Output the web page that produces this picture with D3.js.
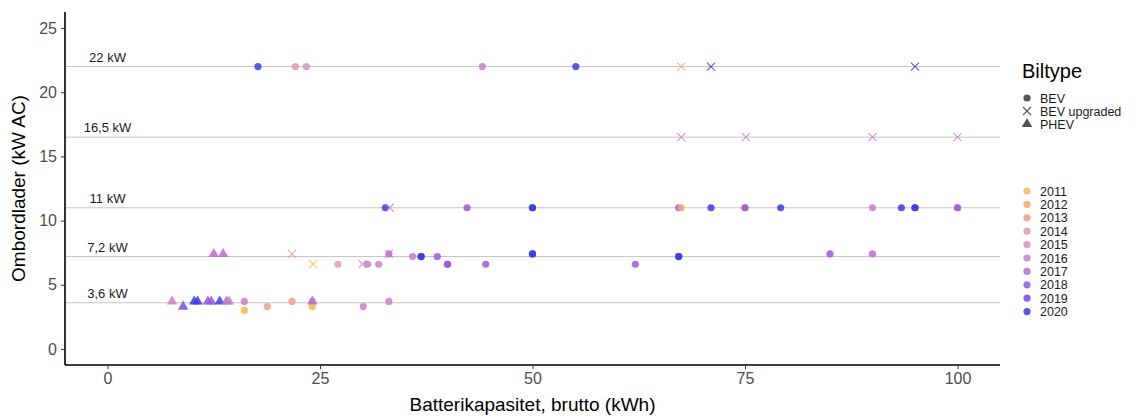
<!DOCTYPE html>
<html>
<head>
<meta charset="utf-8">
<script src="https://cdn.jsdelivr.net/npm/d3@7"></script>
<style>
  body { margin: 0; background: #fff; }
  text { font-family: "Liberation Sans", Arial, sans-serif; }
</style>
</head>
<body>
<script>
// Data
var battery = [17.7, 22.1, 23.4, 44.1, 55.1,
  32.7, 42.3, 50.0, 50.0, 67.2, 67.5, 71.0, 75.0, 75.0, 79.2, 90.0, 93.4, 95.0, 95.0, 100, 100,
  33.1, 35.9, 36.9, 36.9, 38.8, 50.0, 50.0, 67.2, 67.2, 85.0, 90.0,
  27.1, 30.6, 31.9, 40.0, 40.0, 44.5, 62.1,
  16.1, 16.1, 18.8, 21.7, 24.1, 24.1, 30.1, 33.1,
  67.5, 71.0, 95.0, 67.5, 75.1, 90.0, 100, 33.2, 21.7, 24.2, 30.0, 33.1,
  12.5, 13.6, 7.6, 8.9, 10.2, 10.6, 11.8, 12.2, 13.2, 14.0, 14.3, 24.1];
var charger = [22, 22, 22, 22, 22,
  11, 11, 11, 11, 11, 11, 11, 11, 11, 11, 11, 11, 11, 11, 11, 11,
  7.4, 7.2, 7.2, 7.2, 7.2, 7.4, 7.4, 7.2, 7.2, 7.4, 7.4,
  6.6, 6.6, 6.6, 6.6, 6.6, 6.6, 6.6,
  3.7, 3.0, 3.3, 3.7, 3.7, 3.3, 3.3, 3.7,
  22, 22, 22, 16.5, 16.5, 16.5, 16.5, 11, 7.4, 6.6, 6.6, 7.4,
  7.4, 7.4, 3.7, 3.3, 3.7, 3.7, 3.7, 3.7, 3.7, 3.7, 3.7, 3.7];
var year = [2020, 2014, 2015, 2016, 2020,
  2020, 2018, 2020, 2020, 2018, 2012, 2020, 2015, 2018, 2020, 2016, 2020, 2020, 2020, 2015, 2018,
  2017, 2016, 2020, 2020, 2018, 2020, 2020, 2020, 2020, 2018, 2017,
  2014, 2016, 2016, 2018, 2018, 2018, 2018,
  2016, 2011, 2013, 2013, 2014, 2011, 2016, 2016,
  2012, 2020, 2020, 2016, 2016, 2016, 2016, 2016, 2014, 2011, 2016, 2016,
  2017, 2017, 2016, 2019, 2020, 2020, 2018, 2018, 2020, 2017, 2016, 2017];
var carType = [].concat(
  d3.range(47).map(function () { return "BEV"; }),
  d3.range(12).map(function () { return "BEV upgraded"; }),
  d3.range(12).map(function () { return "PHEV"; }));

var years = [2011, 2012, 2013, 2014, 2015, 2016, 2017, 2018, 2019, 2020];
var yearColors = ["#f7b944", "#efaa78", "#e8a090", "#e09aa0", "#d690b8",
  "#c880c8", "#b86cd0", "#9c58d8", "#7e48e0", "#3c3ce0"];
var types = ["BEV", "BEV upgraded", "PHEV"];

var levels = [22, 16.5, 11, 7.2, 3.6];
var levelLabels = ["22 kW", "16,5 kW", "11 kW", "7,2 kW", "3,6 kW"];

var xTicks = [0, 25, 50, 75, 100];
var yTicks = [0, 5, 10, 15, 20, 25];

var w = 1133, h = 417;
var plotLeft = 65, plotRight = 1000, plotTop = 12, plotBottom = 365;

var x = d3.scaleLinear().domain([-5, 105]).range([plotLeft, plotRight]);
var y = d3.scaleLinear().domain([-1.25, 26.25]).range([plotBottom, plotTop]);
var color = d3.scaleOrdinal().domain(years).range(yearColors);

var svg = d3.select("body").append("svg")
  .attr("width", w).attr("height", h);

// reference lines
svg.append("g").selectAll("line").data(levels).enter().append("line")
  .attr("x1", plotLeft).attr("x2", plotRight)
  .attr("y1", function (d) { return y(d); })
  .attr("y2", function (d) { return y(d); })
  .attr("stroke", "#c6c6c6").attr("stroke-width", 1);

svg.append("g").selectAll("text").data(levels).enter().append("text")
  .attr("x", x(0))
  .attr("y", function (d) { return y(d) - 5; })
  .attr("text-anchor", "middle")
  .style("font-size", "13px").style("fill", "#1a1a1a")
  .text(function (d, i) { return levelLabels[i]; });

// points
function drawMark(sel, t, fill) {
  if (t === "BEV") {
    sel.append("circle").attr("r", 3.6).attr("fill", fill);
  } else if (t === "PHEV") {
    sel.append("path").attr("d", d3.symbol().type(d3.symbolTriangle).size(48)()).attr("fill", fill);
  } else {
    sel.append("path").attr("d", "M-4,-4L4,4M-4,4L4,-4")
      .attr("stroke", fill).attr("stroke-width", 1.1).attr("fill", "none");
  }
}

var pts = d3.range(battery.length);
svg.append("g").selectAll("g").data(pts).enter().append("g")
  .attr("transform", function (i) { return "translate(" + x(battery[i]) + "," + y(charger[i]) + ")"; })
  .attr("opacity", 0.85)
  .each(function (i) { drawMark(d3.select(this), carType[i], color(year[i])); });

// axes
var xAxis = svg.append("g").attr("transform", "translate(0," + plotBottom + ")")
  .call(d3.axisBottom(x).tickValues(xTicks).tickSize(4).tickSizeOuter(0).tickPadding(4));
var yAxis = svg.append("g").attr("transform", "translate(" + plotLeft + ",0)")
  .call(d3.axisLeft(y).tickValues(yTicks).tickSize(4).tickSizeOuter(0).tickPadding(4));
[xAxis, yAxis].forEach(function (a) {
  a.select(".domain").attr("stroke", "#000").attr("stroke-width", 1.6);
  a.selectAll(".tick line").attr("stroke", "#333");
  a.selectAll(".tick text").style("font-size", "16px").style("fill", "#4d4d4d")
    .style("font-family", "'Liberation Sans', Arial, sans-serif");
});
xAxis.select(".domain").attr("d", "M" + plotLeft + ",0H" + plotRight);
yAxis.select(".domain").attr("d", "M0," + plotTop + "V" + plotBottom);

svg.append("text")
  .attr("x", (plotLeft + plotRight) / 2).attr("y", 411)
  .attr("text-anchor", "middle").style("font-size", "19px")
  .text("Batterikapasitet, brutto (kWh)");

svg.append("text")
  .attr("transform", "translate(25," + ((plotTop + plotBottom) / 2) + ") rotate(-90)")
  .attr("text-anchor", "middle").style("font-size", "19px")
  .text("Ombordlader (kW AC)");

// legend: type
var lg = svg.append("g").attr("transform", "translate(1022,0)");
lg.append("text").attr("x", 0).attr("y", 78).style("font-size", "20px").text("Biltype");
var tl = lg.selectAll(".tl").data(types).enter().append("g").attr("class", "tl")
  .attr("transform", function (d, i) { return "translate(5," + (98 + i * 13) + ")"; });
tl.each(function (d) { drawMark(d3.select(this), d, "#555"); });
tl.append("text").attr("x", 13).attr("y", 4.5).style("font-size", "12.5px").style("fill", "#1a1a1a")
  .text(function (d) { return d; });

// legend: year
var yl = lg.selectAll(".yl").data(years).enter().append("g").attr("class", "yl")
  .attr("transform", function (d, i) { return "translate(5," + (191 + i * 13.4) + ")"; });
yl.append("circle").attr("r", 3.6).attr("fill", function (d) { return color(d); }).attr("opacity", 0.85);
yl.append("text").attr("x", 13).attr("y", 4.5).style("font-size", "12.5px").style("fill", "#1a1a1a")
  .text(function (d) { return d; });
</script>
</body>
</html>
